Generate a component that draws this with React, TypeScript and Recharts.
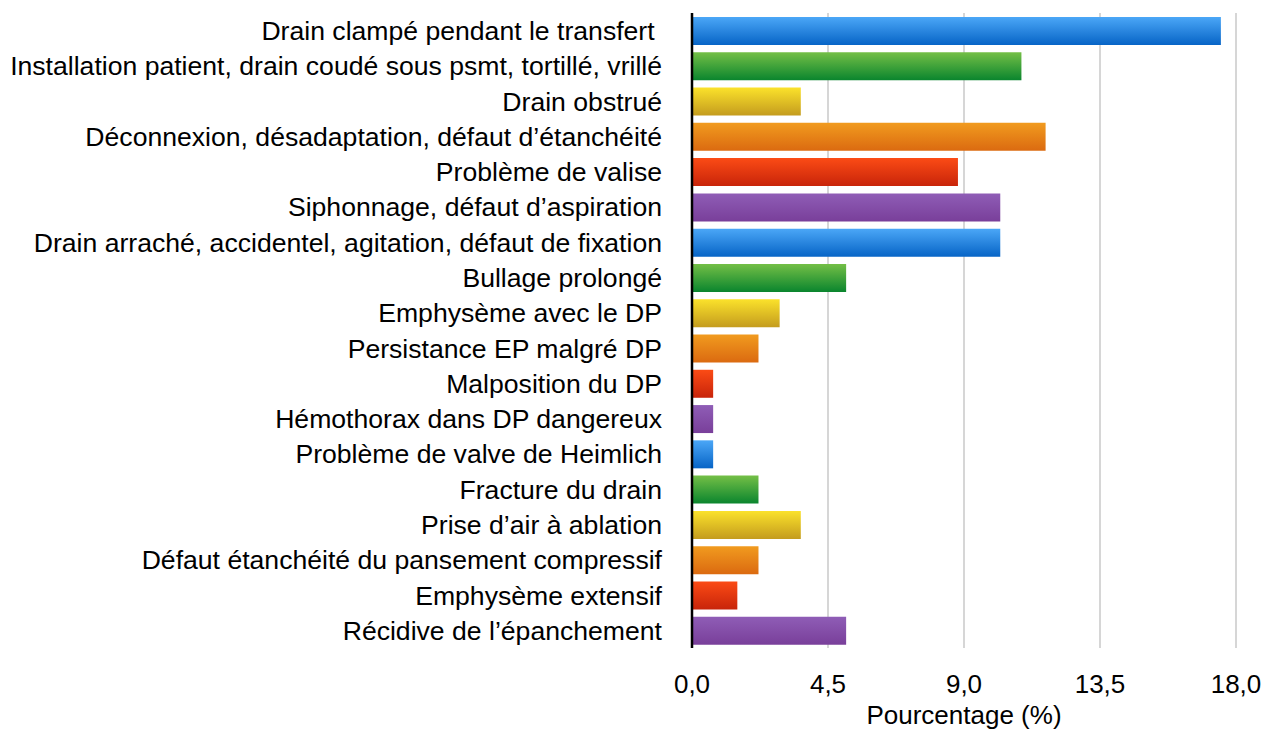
import { BarChart, Bar, XAxis, YAxis, CartesianGrid, Cell } from "recharts";

// Incidents liés au drainage pleural, en % des cas
const categories = [
  "Drain clampé pendant le transfert\u00a0",
  "Installation patient, drain coudé sous psmt, tortillé, vrillé",
  "Drain obstrué",
  "Déconnexion, désadaptation, défaut d’étanchéité",
  "Problème de valise",
  "Siphonnage, défaut d’aspiration",
  "Drain arraché, accidentel, agitation, défaut de fixation",
  "Bullage prolongé",
  "Emphysème avec le DP",
  "Persistance EP malgré DP",
  "Malposition du DP",
  "Hémothorax dans DP dangereux",
  "Problème de valve de Heimlich",
  "Fracture du drain",
  "Prise d’air à ablation",
  "Défaut étanchéité du pansement compressif",
  "Emphysème extensif",
  "Récidive de l’épanchement",
];

const percentages = [17.5, 10.9, 3.6, 11.7, 8.8, 10.2, 10.2, 5.1, 2.9, 2.2, 0.7, 0.7, 0.7, 2.2, 3.6, 2.2, 1.5, 5.1];

const xTicks = [0, 4.5, 9, 13.5, 18];

// couleurs en cycle : bleu, vert, jaune, orange, rouge, violet
const gradients = [
  { id: "g-blue", top: "#4ba7f7", bottom: "#0764c6" },
  { id: "g-green", top: "#74bf46", bottom: "#0a852e" },
  { id: "g-yellow", top: "#fbe22b", bottom: "#c49c1e" },
  { id: "g-orange", top: "#f19b1f", bottom: "#db6a10" },
  { id: "g-red", top: "#fb4b15", bottom: "#c8240a" },
  { id: "g-purple", top: "#8f5db6", bottom: "#793f9a" },
];

const data = categories.map((name, i) => ({ name, value: percentages[i] }));

const font = '"Liberation Sans", Arial, Helvetica, sans-serif';

export default function App() {
  return (
    <div style={{ fontFamily: font }}>
      <style>{"body{margin:0}"}</style>
      <BarChart
        width={1262}
        height={731}
        data={data}
        layout="vertical"
        margin={{ top: 13, right: 26, bottom: 0, left: 0 }}
        barSize={28}
      >
        <defs>
          {gradients.map((g) => (
            <linearGradient key={g.id} id={g.id} x1="0" y1="0" x2="0" y2="1">
              <stop offset="0%" stopColor={g.top} />
              <stop offset="100%" stopColor={g.bottom} />
            </linearGradient>
          ))}
        </defs>
        <CartesianGrid horizontal={false} stroke="#d6d6d6" strokeWidth={2} />
        <XAxis
          type="number"
          domain={[0, 18]}
          ticks={xTicks}
          height={83}
          axisLine={false}
          tickLine={false}
          tickSize={0}
          tickMargin={27}
          tick={{ fontSize: 26, fill: "#000", fontFamily: font }}
          tickFormatter={(v) => v.toFixed(1).replace(".", ",")}
          label={{
            value: "Pourcentage (%)",
            position: "insideBottom",
            offset: 7,
            fontSize: 26,
            fill: "#000",
            fontFamily: font,
          }}
        />
        <YAxis
          type="category"
          dataKey="name"
          width={692}
          interval={0}
          tickLine={false}
          tickSize={0}
          tickMargin={30}
          axisLine={{ stroke: "#000", strokeWidth: 2.5 }}
          tick={{ fontSize: 26.6, fill: "#000", fontFamily: font }}
        />
        <Bar dataKey="value" isAnimationActive={false}>
          {data.map((d, i) => (
            <Cell key={d.name} fill={`url(#${gradients[i % gradients.length].id})`} />
          ))}
        </Bar>
      </BarChart>
    </div>
  );
}
